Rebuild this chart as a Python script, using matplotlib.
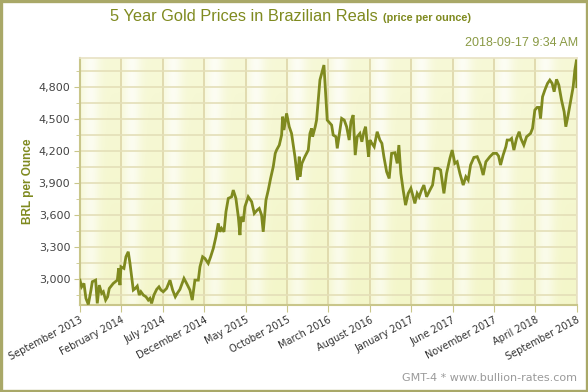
import numpy as np
import matplotlib
matplotlib.use("Agg")
import matplotlib.pyplot as plt
from matplotlib.patches import Rectangle
from matplotlib.ticker import MultipleLocator, FuncFormatter

# months since September 2013
months = [0.0, 0.2, 0.48, 0.72, 1.01, 1.33, 1.49, 1.89, 2.09, 2.33, 2.62, 2.82, 3.10, 3.34,
          3.54, 4.02, 4.51, 4.67, 4.83, 4.95, 5.31, 5.55, 5.83, 6.04, 6.44, 6.68, 6.92, 7.16,
          7.36, 7.65, 7.97, 8.25, 8.45, 8.65, 8.93, 9.26, 9.54, 9.78, 10.06, 10.46, 10.87,
          11.19, 11.51, 11.75, 12.07, 12.56, 12.88, 13.28, 13.56, 13.88, 14.29, 14.49, 14.81,
          15.09, 15.49, 15.78, 16.10, 16.42, 16.70, 16.90, 17.10, 17.39, 17.63, 17.91, 18.31,
          18.51, 18.83, 19.12, 19.32, 19.44, 19.72, 19.92, 20.32, 20.73, 21.05, 21.41, 21.65,
          21.93, 22.13, 22.46, 22.74, 23.02, 23.34, 23.58, 23.74, 24.07, 24.35, 24.47, 24.63,
          24.95, 25.27, 25.55, 25.96, 26.28, 26.48, 26.56, 26.80, 27.16, 27.57, 27.77, 27.97,
          28.09, 28.41, 28.57, 28.81, 28.98, 29.46, 29.86, 30.39, 30.58, 30.91, 31.07, 31.31,
          31.60, 31.91, 32.20, 32.51, 32.72, 32.99, 33.24, 33.48, 33.80, 34.04, 34.29, 34.49,
          34.68, 34.85, 35.01, 35.25, 35.53, 35.89, 36.22, 36.46, 36.70, 37.03, 37.34, 37.63,
          38.03, 38.31, 38.51, 38.75, 39.03, 39.32, 39.64, 39.96, 40.24, 40.44, 40.72, 40.96,
          41.25, 41.53, 41.86, 42.26, 42.58, 42.86, 43.26, 43.55, 43.95, 44.27, 44.67, 44.95,
          45.27, 45.55, 45.88, 46.28, 46.60, 46.88, 47.17, 47.57, 47.97, 48.38, 48.69, 49.02,
          49.50, 49.90, 50.31, 50.55, 50.79, 51.10, 51.43, 51.59, 51.91, 52.12, 52.40, 52.72,
          53.04, 53.24, 53.60, 53.93, 54.41, 54.65, 54.93, 55.21, 55.45, 55.62, 55.86, 56.14,
          56.46, 56.74, 57.02, 57.26, 57.55, 57.83, 58.15, 58.47, 58.67, 58.95, 59.28, 59.56,
          59.76, 59.97, 60.0]
prices = [2993, 2930, 2962, 2822, 2765, 2900, 2978, 2993, 2775, 2946, 2869, 2884, 2806, 2837,
          2915, 2962, 2993, 3103, 2946, 3118, 3103, 3212, 3259, 3150, 2900, 2915, 2937, 2853,
          2884, 2853, 2837, 2806, 2822, 2775, 2853, 2906, 2930, 2900, 2884, 2915, 2993,
          2900, 2837, 2869, 2906, 3009, 2962, 2900, 2806, 2993, 2993, 3118, 3212,
          3196, 3150, 3212, 3290, 3400, 3525, 3446, 3478, 3446, 3634, 3759, 3774,
          3837, 3759, 3587, 3415, 3587, 3540, 3681, 3774, 3728, 3618, 3650, 3665,
          3603, 3446, 3743, 3837, 3946, 4056, 4181, 4212, 4259, 4353, 4525, 4400,
          4556, 4431, 4368, 4150, 3931, 4150, 3962, 4087, 4150, 4212, 4368, 4415,
          4337, 4431, 4493, 4712, 4870, 5009, 4493, 4446, 4353, 4337, 4228, 4353,
          4509, 4493, 4431, 4306, 4478, 4540, 4165, 4337, 4368, 4290, 4384, 4431,
          4275, 4150, 4306, 4275, 4243, 4384, 4306, 4275, 4150, 4009, 3946, 4181,
          4187, 4087, 4259, 3993, 3837, 3696, 3806, 3853, 3774, 3712, 3806, 3774,
          3837, 3884, 3774, 3837, 3884, 4040, 4040, 4025, 3806, 3993, 4134, 4212,
          4087, 4103, 3993, 3884, 3962, 3931, 4072, 4143, 4150, 4072, 3978, 4103,
          4150, 4181, 4181, 4156, 4072, 4165, 4243, 4306, 4306, 4321, 4212, 4321,
          4384, 4321, 4259, 4337, 4368, 4415, 4587, 4612, 4612, 4509, 4712, 4775,
          4837, 4868, 4837, 4759, 4875, 4821, 4681, 4571, 4431, 4540, 4681, 4806,
          4962, 5059, 4806]

tick_months = [0, 5, 10, 15, 20, 25, 30, 35, 40, 45, 50, 55, 60]
tick_labels = ["September 2013", "February 2014", "July 2014", "December 2014", "May 2015",
               "October 2015", "March 2016", "August 2016", "January 2017", "June 2017",
               "November 2017", "April 2018", "September 2018"]

olive = "#7f8a1f"
grid_c = "#e4dfb8"
sans = ["Liberation Sans", "DejaVu Sans"]

fig = plt.figure(figsize=(5.88, 3.92), dpi=100, facecolor="white")
ax = fig.add_axes([0.136, 0.222, 0.845, 0.630])

ymin, ymax = 2760, 5075
ax.set_xlim(0, 60)
ax.set_ylim(ymin, ymax)

# glossy yellow background: light bands repeating in every tick interval
cols = np.linspace(0, 60, 600)
phase = (cols % 5) / 5.0
band = np.exp(-((phase - 0.25) / 0.22) ** 2)
rows = np.linspace(0, 1, 200)[:, None]
light = 0.55 * band[None, :] + 0.25 * rows
light = np.clip(light, 0, 1)
base = np.array([0.955, 0.965, 0.79])
img = base + (1 - base) * light[..., None]
ax.imshow(img, extent=[0, 60, ymin, ymax], aspect="auto", origin="lower", zorder=0)

ax.yaxis.set_major_locator(MultipleLocator(300))
ax.yaxis.set_minor_locator(MultipleLocator(150))
ax.yaxis.set_major_formatter(FuncFormatter(lambda v, p: f"{int(v):,}"))
ax.set_xticks(tick_months)
ax.set_xticklabels(tick_labels, rotation=28, ha="right", rotation_mode="anchor")

ax.grid(which="both", axis="y", color=grid_c, lw=1.2, zorder=1)
ax.grid(which="major", axis="x", color="#ddd6a8", lw=1.2, zorder=1)
ax.set_axisbelow(True)

ax.plot(months, prices, color=olive, lw=2.0, zorder=3, solid_joinstyle="miter")

for s in ["left", "bottom"]:
    ax.spines[s].set_color("#c9c68a")
    ax.spines[s].set_linewidth(1.5)
for s in ["top", "right"]:
    ax.spines[s].set_color("#e8e2c4")
    ax.spines[s].set_linewidth(1.2)

ax.tick_params(axis="y", which="major", length=4, color="#c9c68a", labelsize=8,
               labelcolor="#444444", pad=3)
ax.tick_params(axis="y", which="minor", length=3, color="#c9c68a")
ax.tick_params(axis="x", length=5, color="#c9c68a", labelsize=7,
               labelcolor="#333333", pad=2)

ax.set_ylabel("BRL per Ounce", color=olive, fontsize=8.5, fontweight="bold",
              labelpad=3, family=sans)

fig.text(0.643, 0.957, "5 Year Gold Prices in Brazilian Reals", ha="right", va="center",
         fontsize=11.8, color=olive, family=sans)
fig.text(0.651, 0.955, "(price per ounce)", ha="left", va="center", fontsize=7.8,
         fontweight="bold", color=olive, family=sans)
fig.text(0.984, 0.89, "2018-09-17 9:34 AM", ha="right", va="center", fontsize=9,
         color="#8a9a45", family=sans)
fig.text(0.982, 0.036, "GMT-4 * www.bullion-rates.com", ha="right", va="center",
         fontsize=8, color="#9a9a9a")

fig.patches.append(Rectangle((0.002, 0.003), 0.996, 0.994, transform=fig.transFigure,
                             fill=False, edgecolor="#a9a868", lw=2.4))

fig.savefig("out.png", dpi=100, facecolor="white")
